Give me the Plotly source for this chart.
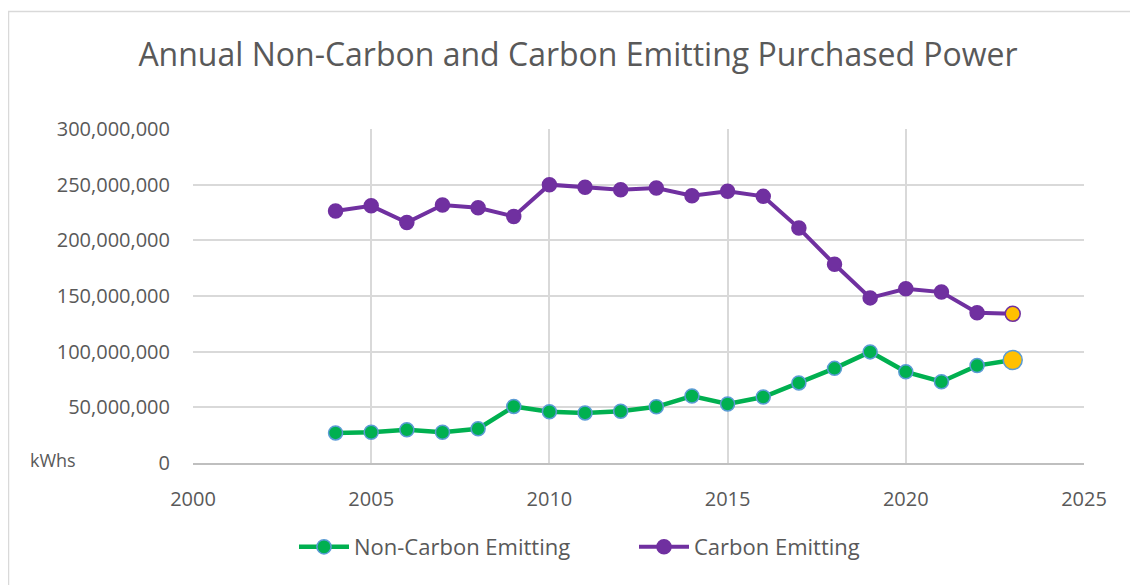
import plotly.graph_objects as go

years = list(range(2004, 2024))
non_carbon = [27.0, 27.6, 29.8, 27.6, 30.8, 50.8, 46.0, 45.0, 46.5, 50.5, 60.2, 53.0, 59.3, 71.9, 85.0, 99.8, 81.9, 73.0, 87.5, 92.5]
carbon = [226.3, 231.0, 216.0, 231.7, 229.2, 221.5, 250.0, 247.6, 245.5, 247.0, 240.0, 244.0, 239.5, 211.0, 178.5, 148.3, 156.5, 153.5, 135.0, 134.0]
non_carbon = [v * 1e6 for v in non_carbon]
carbon = [v * 1e6 for v in carbon]

x_ticks = [2000, 2005, 2010, 2015, 2020, 2025]
y_ticks = [0, 50e6, 100e6, 150e6, 200e6, 250e6, 300e6]
y_labels = ["0", "50,000,000", "100,000,000", "150,000,000", "200,000,000", "250,000,000", "300,000,000"]

GREEN = "#00b050"
PURPLE = "#7030a0"
BLUE = "#5b9bd5"
YELLOW = "#ffc000"
TXT = "#595959"
GRID = "#d9d9d9"

n = len(years)
fig = go.Figure()
fig.add_trace(go.Scatter(
    x=years, y=non_carbon, mode="lines+markers", name="Non-Carbon Emitting",
    line=dict(color=GREEN, width=4.5),
    marker=dict(color=[GREEN] * (n - 1) + [YELLOW], size=[14] * (n - 1) + [19], opacity=1,
                line=dict(color=BLUE, width=1.5)),
))
fig.add_trace(go.Scatter(
    x=years, y=carbon, mode="lines+markers", name="Carbon Emitting",
    line=dict(color=PURPLE, width=4),
    marker=dict(color=[PURPLE] * (n - 1) + [YELLOW], size=[14] * (n - 1) + [15], opacity=1,
                line=dict(color=PURPLE, width=1.5)),
))

# page has 8px body margin; coordinates below are in figure pixels
OFF = 8
W, H = 1130, 577
L, R, T, B = 193 - OFF, 1084 - OFF, 129 - OFF, 463 - OFF
pw, ph = R - L, B - T

def px(xp):
    return (xp - OFF - L) / pw

def py(yp):
    return (B - (yp - OFF)) / ph

fig.update_layout(
    width=W, height=H,
    margin=dict(l=L, r=W - R, t=T, b=H - B),
    paper_bgcolor="white", plot_bgcolor="white",
    font=dict(family="Open Sans", color=TXT, size=20),
    title=dict(text="Annual Non-Carbon and Carbon Emitting Purchased Power",
               x=px(578), xanchor="center", xref="paper", y=1 - (55 - OFF) / H, yanchor="middle",
               font=dict(size=32, color=TXT, family="Open Sans")),
    xaxis=dict(range=[2000, 2025], tickvals=x_ticks, showgrid=True, gridcolor=GRID, gridwidth=1.5,
               zeroline=False, showline=True, linecolor="#bfbfbf", linewidth=1.5,
               ticks="", ticklabelstandoff=17, tickfont=dict(size=20, color=TXT)),
    yaxis=dict(range=[0, 300e6], tickvals=y_ticks, ticktext=y_labels, showgrid=True,
               gridcolor=GRID, gridwidth=1.5, zeroline=False, showline=False,
               ticks="", ticklabelstandoff=22, tickfont=dict(size=20, color=TXT)),
    legend=dict(orientation="h", x=px(634), xanchor="center", y=py(547), yanchor="middle",
                font=dict(size=22, color=TXT), itemwidth=50, traceorder="normal",
                entrywidth=275, entrywidthmode="pixels"),
    showlegend=True,
)

fig.add_annotation(text="kWhs", x=px(53), y=py(460), xref="paper", yref="paper",
                   showarrow=False, font=dict(size=18, color=TXT), xanchor="center", yanchor="middle")

fig.add_shape(type="rect", xref="paper", yref="paper",
              x0=px(8.5), x1=px(1170), y0=py(11.5), y1=py(620),
              line=dict(color=GRID, width=1.5), fillcolor="rgba(0,0,0,0)", layer="below")

fig.write_html("out.html")
